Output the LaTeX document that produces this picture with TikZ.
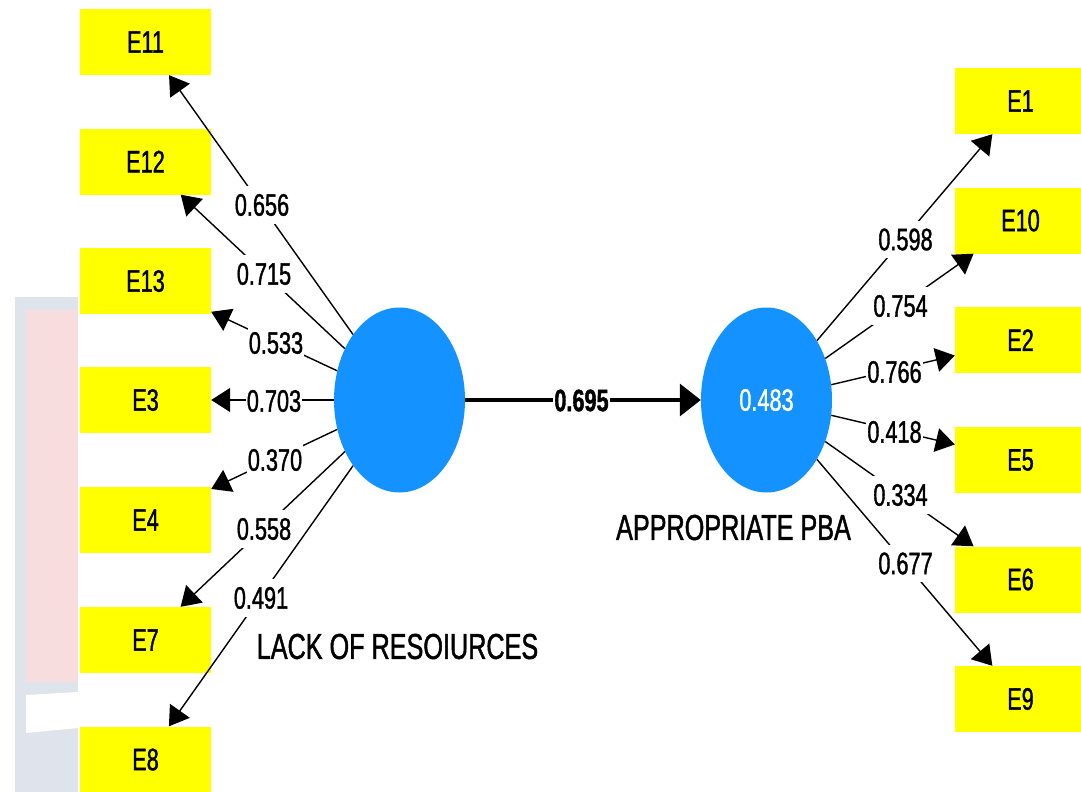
\documentclass[tikz,border=0pt]{standalone}
\usepackage{fontspec}
\setmainfont{Liberation Sans}[FakeStretch=0.7, FakeBold=1.2]
\usetikzlibrary{arrows.meta,shapes.geometric}

\definecolor{boxyellow}{RGB}{255,255,0}
\definecolor{latentblue}{RGB}{20,146,255}
\definecolor{markgrey}{RGB}{223,227,236}
\definecolor{markpink}{RGB}{248,221,223}

\begin{document}
\begin{tikzpicture}[x=1pt,y=-1pt,
  indbox/.style={rectangle, fill=boxyellow, minimum width=131pt, minimum height=66pt,
    inner sep=0pt, font=\fontsize{31}{36}\selectfont},
  latentnode/.style={ellipse, fill=latentblue, minimum width=131pt, minimum height=185pt,
    inner sep=0pt, text=white, font=\fontsize{31}{36}\selectfont},
  constructname/.style={inner sep=0pt, font=\fontsize{36}{40}\selectfont},
  loadarrow/.style={-{Triangle[length=19pt,width=24pt]}, line width=1.4pt, draw=black},
  patharrow/.style={-{Triangle[length=21pt,width=32pt]}, line width=3.5pt, draw=black},
  wlabel/.style={fill=white, inner xsep=1pt, inner ysep=8pt, font=\fontsize{31}{36}\selectfont},
]
\useasboundingbox (0,0) rectangle (1081,792);

% faint page decoration in the lower left
\fill[markgrey] (15,297) rectangle (78,792);
\fill[markpink] (26,310) rectangle (78,682);
\fill[white] (26,695) -- (78,692) -- (78,728) -- (26,733) -- cycle;

% latent variables
\node[latentnode] (lack) at (399.5,400) {};
\node[latentnode] (pba) at (766.5,400) {0.483};
\node[constructname] (lackname) at (397.5,646.5) {LACK OF RESOIURCES};
\node[constructname] (pbaname) at (733.5,527.5) {APPROPRIATE PBA};

% indicators of LACK OF RESOIURCES
\node[indbox] (e11) at (145.5,42) {E11};
\node[indbox] (e12) at (145.5,161.5) {E12};
\node[indbox] (e13) at (145.5,281) {E13};
\node[indbox] (e3)  at (145.5,400) {E3};
\node[indbox] (e4)  at (145.5,520) {E4};
\node[indbox] (e7)  at (145.5,640) {E7};
\node[indbox] (e8)  at (145.5,759.5) {E8};

% indicators of APPROPRIATE PBA
\node[indbox] (e1)  at (1020.5,101) {E1};
\node[indbox] (e10) at (1020.5,220.5) {E10};
\node[indbox] (e2)  at (1020.5,340) {E2};
\node[indbox] (e5)  at (1020.5,460) {E5};
\node[indbox] (e6)  at (1020.5,579.5) {E6};
\node[indbox] (e9)  at (1020.5,699) {E9};

% outer loadings, left block
\draw[loadarrow] (lack) -- (e11) node[wlabel] at (262,205) {0.656};
\draw[loadarrow] (lack) -- (e12) node[wlabel] at (264,274) {0.715};
\draw[loadarrow] (lack) -- (e13) node[wlabel] at (276,343) {0.533};
\draw[loadarrow] (lack) -- (e3)  node[wlabel] at (274,401) {0.703};
\draw[loadarrow] (lack) -- (e4)  node[wlabel] at (275,460) {0.370};
\draw[loadarrow] (lack) -- (e7)  node[wlabel] at (264,529) {0.558};
\draw[loadarrow] (lack) -- (e8)  node[wlabel] at (261,598) {0.491};

% outer loadings, right block
\draw[loadarrow] (pba) -- (e1)  node[wlabel] at (905.5,239.5) {0.598};
\draw[loadarrow] (pba) -- (e10) node[wlabel] at (900.5,306) {0.754};
\draw[loadarrow] (pba) -- (e2)  node[wlabel] at (894.5,372) {0.766};
\draw[loadarrow] (pba) -- (e5)  node[wlabel] at (894.5,432) {0.418};
\draw[loadarrow] (pba) -- (e6)  node[wlabel] at (900.5,495) {0.334};
\draw[loadarrow] (pba) -- (e9)  node[wlabel] at (905.5,563.5) {0.677};

% structural path
\draw[patharrow] (lack) -- (pba)
  node[wlabel, inner ysep=4pt, font=\fontsize{31}{36}\selectfont\bfseries] at (581.5,400.5) {0.695};
\end{tikzpicture}
\end{document}
